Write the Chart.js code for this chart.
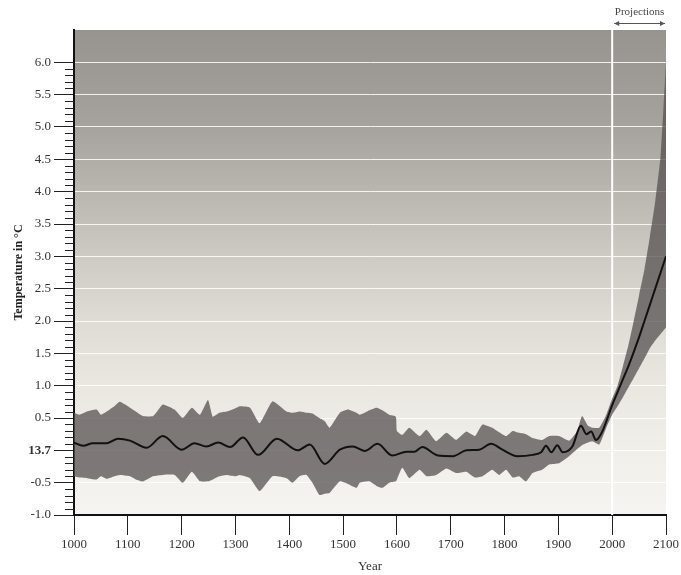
<!DOCTYPE html>
<html>
<head>
<meta charset="utf-8">
<script src="https://cdn.jsdelivr.net/npm/chart.js@4"></script>
<style>
  body { margin: 0; background: #fff; }
  #wrap { width: 681px; height: 575px; }
</style>
</head>
<body>
<div id="wrap"><canvas id="chart"></canvas></div>
<script>
// mean temperature curve (deviation from 13.7 °C)
const meanYears = [1000, 1017, 1035, 1061, 1082, 1104, 1135, 1165, 1200, 1224, 1246, 1268, 1290, 1314, 1342, 1377, 1416, 1438, 1466, 1494,
    1518, 1540, 1564, 1591, 1618, 1633, 1647, 1676, 1704, 1729, 1753, 1775, 1796, 1824, 1852, 1868, 1877, 1887, 1898, 1908,
    1926, 1942, 1952, 1961, 1970, 1981, 2000, 2010, 2020, 2030, 2040, 2050, 2060, 2070, 2080, 2090, 2100];
const meanTemps = [0.12, 0.07, 0.11, 0.11, 0.18, 0.15, 0.04, 0.22, 0.01, 0.11, 0.06, 0.12, 0.05, 0.20, -0.07, 0.18, 0.00, 0.09, -0.21, 0.01,
    0.06, -0.01, 0.10, -0.08, -0.02, -0.02, 0.05, -0.08, -0.09, 0.00, 0.01, 0.10, 0.01, -0.09, -0.07, -0.03, 0.07, -0.03, 0.08, -0.03,
    0.06, 0.38, 0.25, 0.29, 0.16, 0.28, 0.70, 0.90, 1.10, 1.30, 1.52, 1.75, 2.00, 2.25, 2.50, 2.75, 3.00];

// uncertainty band
const bandYears = [1000, 1010, 1024, 1042, 1050, 1061, 1075, 1085, 1104, 1115, 1128, 1147, 1165, 1187, 1202, 1219, 1234, 1249, 1258, 1270,
    1284, 1300, 1308, 1327, 1345, 1369, 1395, 1406, 1419, 1432, 1443, 1456, 1466, 1475, 1494, 1509, 1525, 1531, 1549, 1562,
    1573, 1586, 1598, 1600, 1610, 1623, 1642, 1655, 1673, 1692, 1710, 1729, 1745, 1759, 1777, 1790, 1803, 1815, 1827, 1840,
    1852, 1870, 1883, 1901, 1920, 1935, 1944, 1955, 1963, 1976, 1989, 2000, 2010, 2020, 2030, 2040, 2050, 2060, 2070, 2080,
    2090, 2095, 2100];
const bandUpper = [0.58, 0.55, 0.60, 0.63, 0.55, 0.60, 0.68, 0.75, 0.66, 0.60, 0.53, 0.53, 0.71, 0.63, 0.50, 0.66, 0.55, 0.78, 0.52, 0.58,
    0.60, 0.65, 0.68, 0.66, 0.42, 0.76, 0.60, 0.58, 0.60, 0.58, 0.57, 0.50, 0.45, 0.35, 0.58, 0.63, 0.58, 0.55, 0.62, 0.66,
    0.62, 0.55, 0.52, 0.30, 0.24, 0.35, 0.22, 0.32, 0.14, 0.27, 0.16, 0.29, 0.22, 0.40, 0.35, 0.28, 0.22, 0.30, 0.27, 0.25,
    0.19, 0.16, 0.22, 0.22, 0.15, 0.30, 0.53, 0.38, 0.35, 0.35, 0.55, 0.80, 1.00, 1.30, 1.62, 2.00, 2.40, 2.80, 3.30, 3.85,
    4.55, 5.25, 6.00];
const bandLower = [-0.40, -0.42, -0.43, -0.45, -0.40, -0.44, -0.40, -0.38, -0.40, -0.45, -0.48, -0.40, -0.38, -0.38, -0.50, -0.33, -0.48, -0.48, -0.45, -0.40,
    -0.38, -0.40, -0.38, -0.43, -0.63, -0.40, -0.43, -0.50, -0.40, -0.38, -0.50, -0.69, -0.67, -0.66, -0.48, -0.52, -0.58, -0.50, -0.48, -0.55,
    -0.58, -0.50, -0.48, -0.45, -0.27, -0.43, -0.30, -0.40, -0.38, -0.28, -0.35, -0.33, -0.42, -0.40, -0.30, -0.38, -0.30, -0.42, -0.40, -0.48,
    -0.35, -0.30, -0.22, -0.20, -0.09, 0.02, 0.08, 0.12, 0.14, 0.09, 0.35, 0.55, 0.68, 0.82, 0.97, 1.12, 1.27, 1.42, 1.58, 1.70,
    1.80, 1.85, 1.90];

const yearTicks = [1000, 1100, 1200, 1300, 1400, 1500, 1600, 1700, 1800, 1900, 2000, 2100];
const tempTicks = [-1.0, -0.5, 0, 0.5, 1.0, 1.5, 2.0, 2.5, 3.0, 3.5, 4.0, 4.5, 5.0, 5.5, 6.0];
const tempLabels = ['-1.0', '-0.5', '13.7', '0.5', '1.0', '1.5', '2.0', '2.5', '3.0', '3.5', '4.0', '4.5', '5.0', '5.5', '6.0'];
const projectionStart = 2000;
const projectionEnd = 2100;

const pts = (xs, ys) => xs.map((x, i) => ({ x: x, y: ys[i] }));
const serif = "'Liberation Serif', 'DejaVu Serif', serif";

const backdrop = {
    id: 'backdrop',
    beforeDraw(chart) {
        const { ctx, chartArea: a } = chart;
        const g = ctx.createLinearGradient(0, a.top, 0, a.bottom);
        g.addColorStop(0, '#97938f');
        g.addColorStop(0.2, '#a6a29d');
        g.addColorStop(0.33, '#b9b5af');
        g.addColorStop(0.47, '#cecbc4');
        g.addColorStop(0.6, '#dedcd5');
        g.addColorStop(0.73, '#e9e7e0');
        g.addColorStop(0.87, '#f1efea');
        g.addColorStop(1, '#f5f4f0');
        ctx.save();
        ctx.fillStyle = g;
        ctx.fillRect(a.left, a.top, a.right - a.left, a.bottom - a.top);
        ctx.restore();
    },
    beforeDatasetsDraw(chart) {
        const { ctx, chartArea: a, scales } = chart;
        const x = scales.x.getPixelForValue(projectionStart);
        ctx.save();
        ctx.strokeStyle = '#ffffff';
        ctx.lineWidth = 2;
        ctx.beginPath();
        ctx.moveTo(x, a.top);
        ctx.lineTo(x, a.bottom);
        ctx.stroke();
        ctx.restore();
    },
    afterDraw(chart) {
        const { ctx, chartArea: a, scales } = chart;
        // minor ticks on the temperature axis
        ctx.save();
        ctx.strokeStyle = '#222';
        ctx.lineWidth = 1;
        for (let i = -10; i <= 60; i++) {
            if (i % 5 === 0) continue;
            const y = Math.round(scales.y.getPixelForValue(i / 10)) + 0.5;
            ctx.beginPath();
            ctx.moveTo(a.left - 9, y);
            ctx.lineTo(a.left, y);
            ctx.stroke();
        }
        // projections marker
        const x1 = scales.x.getPixelForValue(projectionStart) + 2;
        const x2 = scales.x.getPixelForValue(projectionEnd) - 1;
        const y = 23.5;
        ctx.strokeStyle = '#555';
        ctx.fillStyle = '#555';
        ctx.beginPath();
        ctx.moveTo(x1, y);
        ctx.lineTo(x2, y);
        ctx.stroke();
        ctx.beginPath();
        ctx.moveTo(x1, y); ctx.lineTo(x1 + 5, y - 2.5); ctx.lineTo(x1 + 5, y + 2.5); ctx.closePath();
        ctx.moveTo(x2, y); ctx.lineTo(x2 - 5, y - 2.5); ctx.lineTo(x2 - 5, y + 2.5); ctx.closePath();
        ctx.fill();
        ctx.font = "11px " + serif;
        ctx.textAlign = 'center';
        ctx.textBaseline = 'middle';
        ctx.fillStyle = '#444';
        ctx.fillText('Projections', (x1 + x2) / 2, 12);
        ctx.restore();
    }
};

new Chart(document.getElementById('chart'), {
    type: 'line',
    data: {
        datasets: [
            {
                label: 'Mean',
                data: pts(meanYears, meanTemps),
                borderColor: '#111',
                borderWidth: 2,
                pointRadius: 0,
                tension: 0.4,
                cubicInterpolationMode: 'monotone',
                fill: false
            },
            {
                label: 'Upper',
                data: pts(bandYears, bandUpper),
                borderWidth: 0,
                borderColor: 'rgba(0,0,0,0)',
                backgroundColor: 'rgba(85,80,80,0.75)',
                pointRadius: 0,
                tension: 0.15,
                fill: '+1'
            },
            {
                label: 'Lower',
                data: pts(bandYears, bandLower),
                borderWidth: 0,
                borderColor: 'rgba(0,0,0,0)',
                pointRadius: 0,
                tension: 0.15,
                fill: false
            }
        ]
    },
    options: {
        responsive: true,
        maintainAspectRatio: false,
        animation: false,
        layout: { padding: { left: 12, right: 14, top: 30, bottom: 0 } },
        plugins: { legend: { display: false }, tooltip: { enabled: false } },
        scales: {
            x: {
                type: 'linear',
                min: 1000,
                max: 2100,
                afterBuildTicks: scale => { scale.ticks = yearTicks.map(v => ({ value: v })); },
                afterFit: scale => { scale.height = 60; },
                ticks: {
                    color: '#333',
                    font: { family: serif, size: 13 },
                    padding: 2,
                    maxRotation: 0,
                    callback: v => String(v)
                },
                grid: { drawOnChartArea: false, tickLength: 20, tickColor: '#222', tickWidth: 1 },
                border: { color: '#111', width: 2 },
                title: {
                    display: true,
                    text: 'Year',
                    color: '#333',
                    font: { family: serif, size: 13 },
                    padding: { top: 0, bottom: 1 }
                }
            },
            y: {
                type: 'linear',
                min: -1,
                max: 6.5,
                afterBuildTicks: scale => { scale.ticks = tempTicks.map(v => ({ value: v })); },
                afterFit: scale => { scale.width = 62; },
                ticks: {
                    color: '#333',
                    font: ctx => ({ family: serif, size: 13, weight: ctx.tick && ctx.tick.value === 0 ? 'bold' : 'normal' }),
                    padding: 3,
                    callback: v => tempLabels[tempTicks.indexOf(v)]
                },
                grid: {
                    color: ctx => ctx.tick && ctx.tick.value === -1 ? 'rgba(0,0,0,0)' : 'rgba(255,255,255,0.85)',
                    lineWidth: 1,
                    tickLength: 20,
                    tickColor: '#222',
                    tickWidth: 1
                },
                border: { color: '#111', width: 2 },
                title: {
                    display: true,
                    text: 'Temperature in °C',
                    color: '#222',
                    font: { family: serif, size: 12, weight: 'bold' },
                    padding: { top: 0, bottom: 0 }
                }
            }
        }
    },
    plugins: [backdrop]
});
</script>
</body>
</html>
